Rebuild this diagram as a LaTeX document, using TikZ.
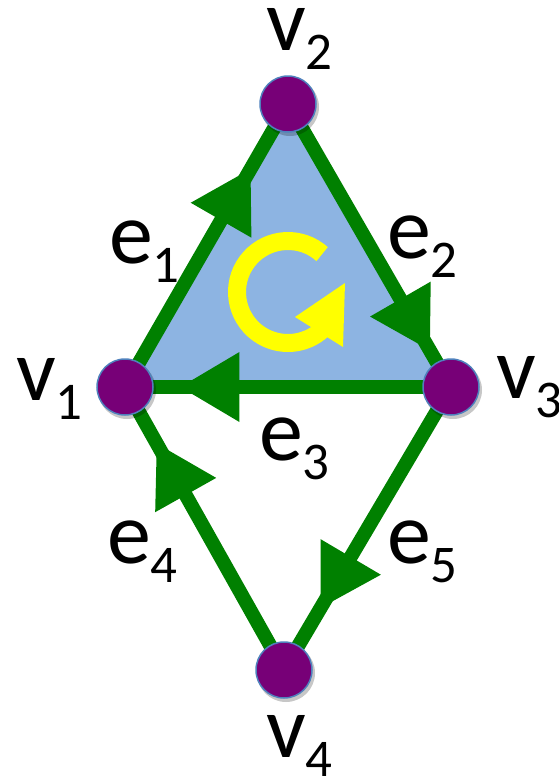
\documentclass[tikz,border=0pt]{standalone}
\usepackage{fontspec}
\setmainfont{Carlito}
\usetikzlibrary{calc,backgrounds}
\definecolor{edgegreen}{RGB}{0,128,0}
\definecolor{triblue}{RGB}{141,180,226}
\definecolor{vpurple}{RGB}{119,0,119}
\definecolor{vborder}{RGB}{79,129,189}
\definecolor{ringyellow}{RGB}{255,255,0}
\newcommand{\lbl}[2]{\fontsize{88}{88}\selectfont #1\raisebox{-19pt}{\fontsize{53}{53}\selectfont #2}}
\newcommand{\ahead}[3]{%
  \coordinate (tp) at ($(#1.center)!#3!(#2.center)$);
  \coordinate (bm) at ($(tp)!59pt!(#1.center)$);
  \fill[edgegreen] (tp) -- ($(bm)!35pt!90:(tp)$) -- ($(bm)!35pt!-90:(tp)$) -- cycle;}
\begin{document}
\begin{tikzpicture}[x=1pt,y=-1pt,
  vertex/.style={circle,fill=vpurple,draw=vborder,line width=1.5pt,minimum size=56pt,inner sep=0pt},
  edge/.style={draw=edgegreen,line width=14pt},
  lab/.style={anchor=base west,inner sep=0pt,text=black}]
\useasboundingbox (0,0) rectangle (558,777);
\node[vertex] (v1) at (125,387) {};
\node[vertex] (v2) at (288,104) {};
\node[vertex] (v3) at (451,387) {};
\node[vertex] (v4) at (284,670) {};
\begin{pgfonlayer}{background}
  \fill[triblue] (v1.center) -- (v2.center) -- (v3.center) -- cycle;
  % yellow circular arrow
  \coordinate (rc) at (288,292);
  \draw[ringyellow,line width=18pt] ($(rc)+(-48:51)$) arc[start angle=-48,end angle=-330,radius=51];
  \fill[ringyellow] (295,317) -- (345,283) -- (343,347) -- cycle;
  % edges
  \draw[edge] (v1.center) -- (v2.center);
  \draw[edge] (v2.center) -- (v3.center);
  \draw[edge] (v3.center) -- (v1.center);
  \draw[edge] (v4.center) -- (v1.center);
  \draw[edge] (v3.center) -- (v4.center);
  \ahead{v1}{v2}{0.77}
  \ahead{v2}{v3}{0.87}
  \ahead{v3}{v1}{0.83}
  \ahead{v4}{v1}{0.80}
  \ahead{v3}{v4}{0.78}
  % vertex shadows
  \foreach \v in {v1,v2,v3,v4}
    \fill[black,opacity=0.22] ($(\v.center)+(2,3)$) circle (29);
\end{pgfonlayer}
\node[lab] (l2) at (266,50) {\lbl{v}{2}};
\node[lab] (l1) at (16,400) {\lbl{v}{1}};
\node[lab] (l3) at (496,398) {\lbl{v}{3}};
\node[lab] (l4) at (266,757) {\lbl{v}{4}};
\node[lab] (le1) at (109,263) {\lbl{e}{1}};
\node[lab] (le2) at (387,258) {\lbl{e}{2}};
\node[lab] (le3) at (259,460) {\lbl{e}{3}};
\node[lab] (le4) at (107,563) {\lbl{e}{4}};
\node[lab] (le5) at (387,563) {\lbl{e}{5}};
\end{tikzpicture}
\end{document}
